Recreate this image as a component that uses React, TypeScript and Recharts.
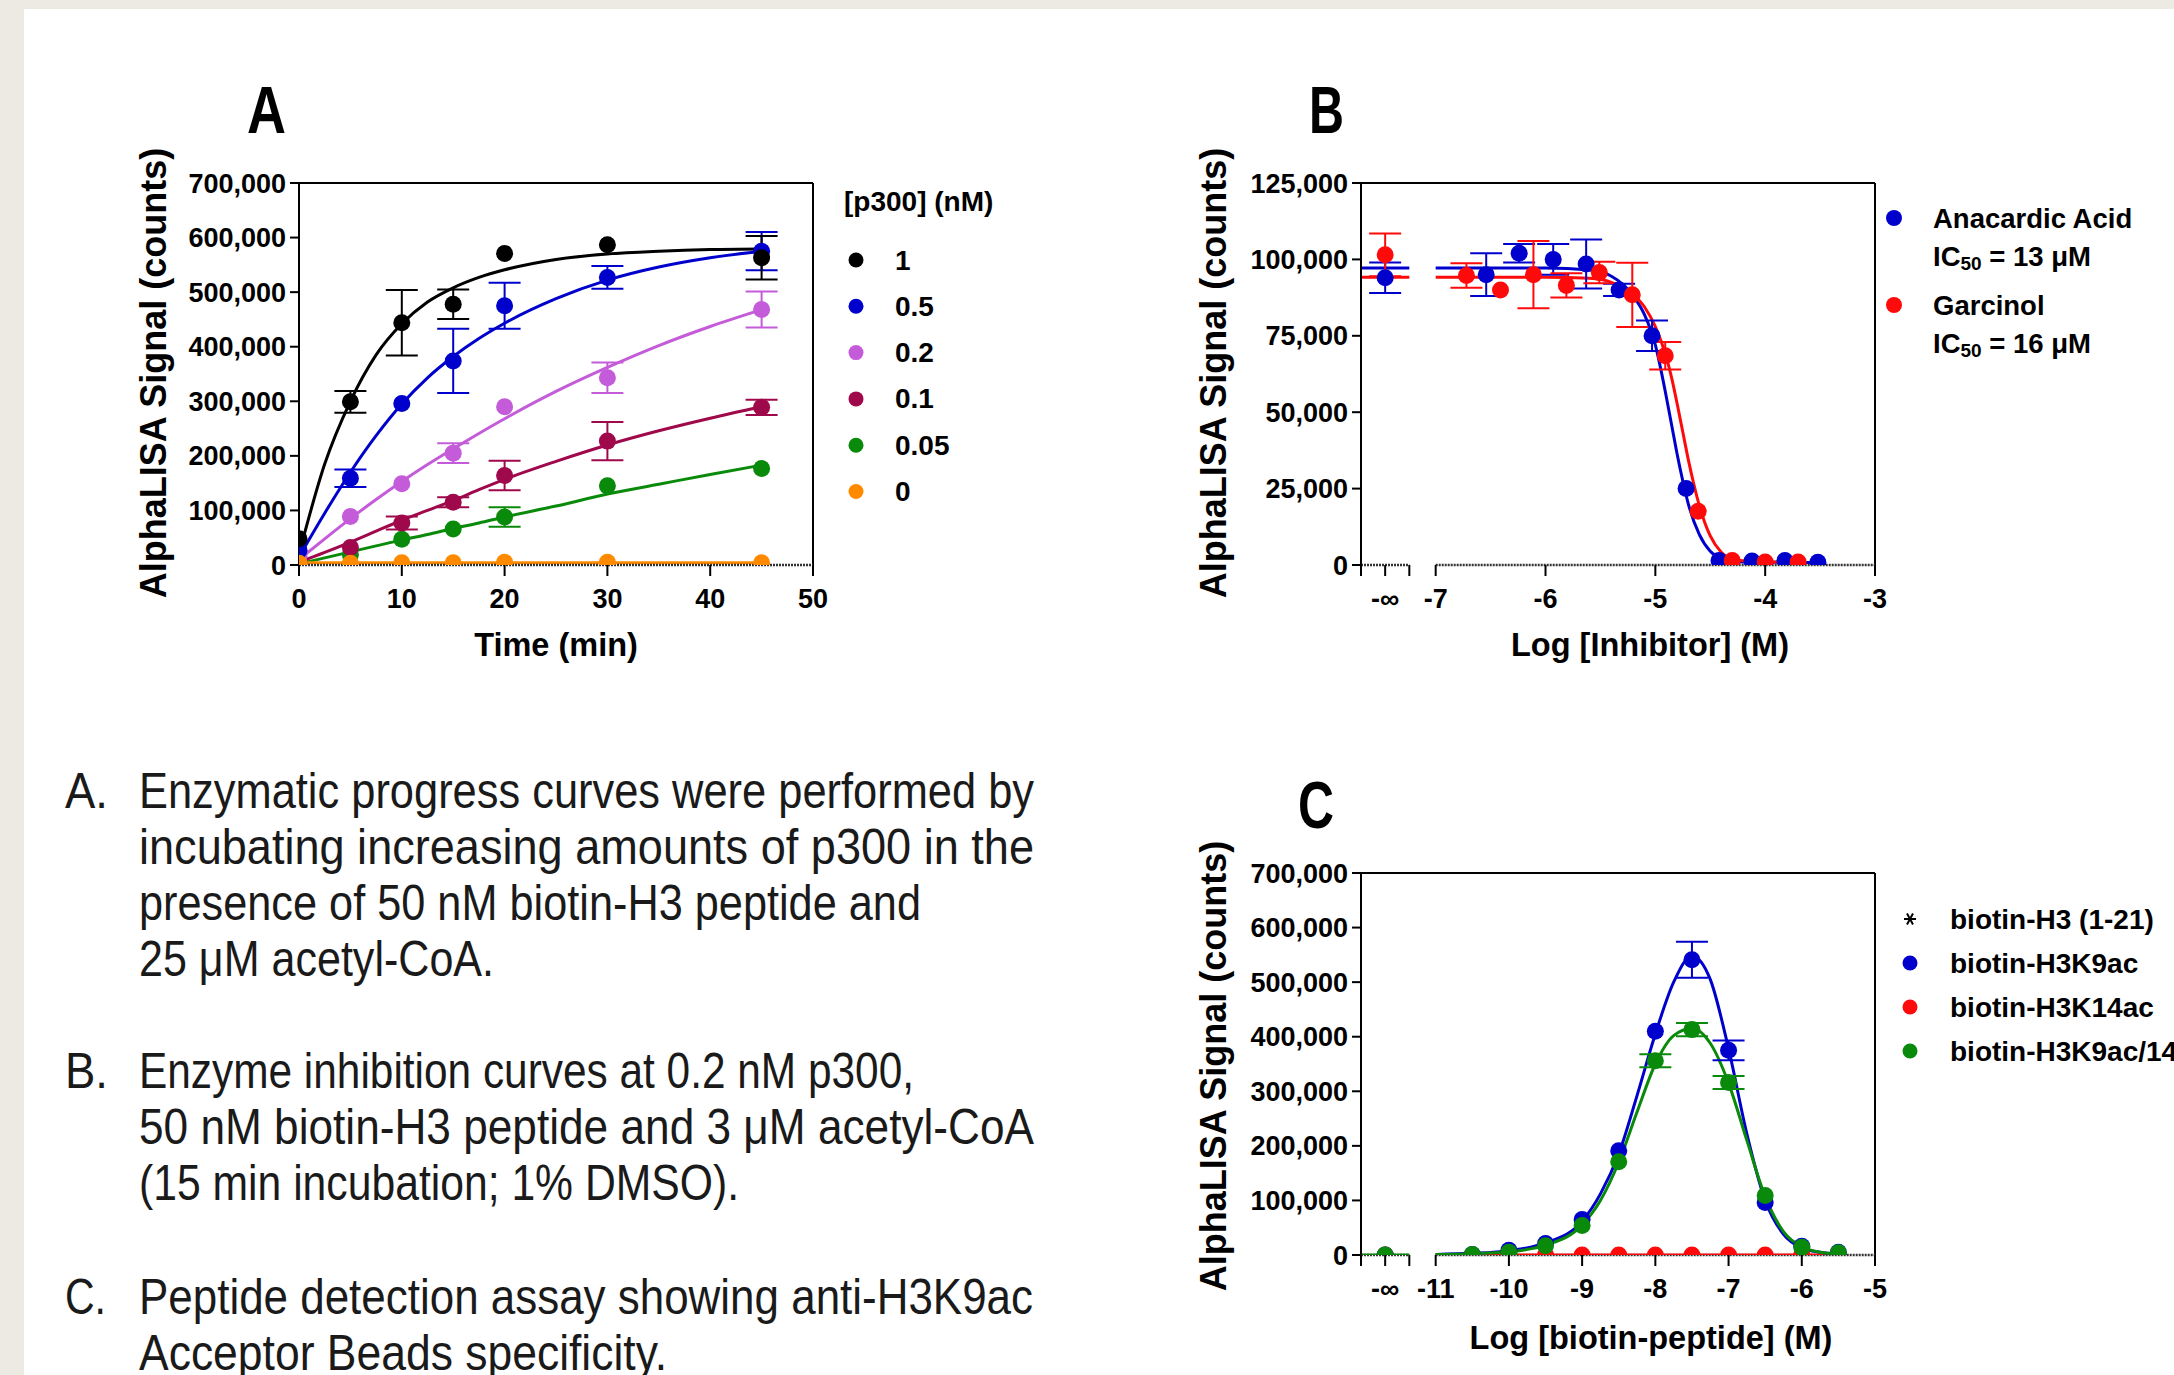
import React from 'react';
import {
  ComposedChart,
  Line,
  Scatter,
  XAxis,
  YAxis,
  ErrorBar,
  ReferenceLine,
} from 'recharts';

const FONT = '"Liberation Sans", Arial, sans-serif';
const NARROW = '"Liberation Sans Narrow", "Arial Narrow", "Liberation Sans", sans-serif';

// ---------- panel A : progress curves ----------
const A_TIME = [0, 5, 10, 15, 20, 30, 45];
const A_P1 = [48000, 299000, 444000, 478000, 571000, 587000, 563000];
const A_P1_ERR = [0, 20000, 60000, 27000, 0, 0, 40000];
const A_P05 = [27000, 159000, 296000, 374000, 475000, 527000, 575000];
const A_P05_ERR = [0, 16000, 0, 59000, 42000, 21000, 35000];
const A_P02 = [16000, 89000, 149000, 205000, 290000, 343000, 468000];
const A_P02_ERR = [0, 0, 0, 18000, 0, 28000, 33000];
const A_P01 = [10000, 32000, 77000, 115000, 164000, 227000, 289000];
const A_P01_ERR = [0, 0, 12000, 9000, 27000, 35000, 14000];
const A_P005 = [4000, 19000, 47000, 66000, 88000, 145000, 177000];
const A_P005_ERR = [0, 0, 0, 0, 18000, 0, 0];
const A_P0 = [3000, 3000, 4000, 4000, 5000, 5000, 4000];

const A_FIT_T = [0, 2.5, 5, 7.5, 10, 12.5, 15, 17.5, 20, 25, 30, 35, 40, 45];
const A_FIT_P1 = [20000, 185000, 300000, 385000, 442000, 482000, 508000, 527000, 541000, 560000, 570000, 575000, 578000, 579000];
const A_FIT_P05 = [15000, 95000, 170000, 237000, 295000, 343000, 382000, 415000, 443000, 488000, 522000, 546000, 563000, 575000];
const A_FIT_P02 = [10000, 48000, 85000, 120000, 153000, 184000, 213000, 241000, 268000, 318000, 362000, 402000, 437000, 468000];
const A_FIT_P01 = [5000, 23000, 42000, 62000, 82000, 100000, 118000, 138000, 157000, 190000, 220000, 246000, 269000, 290000];
const A_FIT_P005 = [2000, 13000, 24000, 35000, 46000, 56000, 67000, 77000, 88000, 108000, 130000, 148000, 166000, 183000];
const A_FIT_P0 = [4000, 4000, 4000, 4000, 4000, 4000, 4000, 4000, 4000, 4000, 4000, 4000, 4000, 4000];

const A_X_TICKS = [0, 10, 20, 30, 40, 50];
const A_X_LABELS = ['0', '10', '20', '30', '40', '50'];
const A_Y_TICKS = [0, 100000, 200000, 300000, 400000, 500000, 600000, 700000];
const A_LEGEND = ['1', '0.5', '0.2', '0.1', '0.05', '0'];

// ---------- panel B : inhibition ----------
const B_AA_X = [-7.46, -6.54, -6.24, -5.93, -5.63, -5.33, -5.03, -4.72, -4.42, -4.12, -3.82, -3.52];
const B_AA_Y = [94000, 95000, 102000, 100000, 98500, 90000, 75000, 25000, 1500, 1300, 1500, 900];
const B_AA_ERR = [5000, 7000, 3000, 5000, 8000, 2000, 5000, 0, 0, 0, 0, 0];
const B_GA_X = [-7.46, -6.72, -6.41, -6.11, -5.81, -5.51, -5.21, -4.91, -4.61, -4.3, -4.0, -3.7];
const B_GA_Y = [101500, 94700, 90000, 95000, 91500, 95700, 88400, 68500, 17600, 1500, 1000, 1000];
const B_GA_ERR = [7000, 4000, 0, 11000, 4000, 3500, 10500, 4500, 0, 0, 0, 0];

const B_FIT_AA_X = [-7, -6, -5.6, -5.4, -5.2, -5.1, -5.0, -4.95, -4.9, -4.85, -4.8, -4.75, -4.7, -4.6, -4.5, -4.4, -4.2, -3.52];
const B_FIT_AA_Y = [97200, 97200, 96500, 94500, 88000, 82000, 72000, 64000, 55000, 45500, 36000, 27500, 20000, 10000, 4500, 2200, 1000, 800];
const B_FIT_GA_X = [-7, -6, -5.6, -5.4, -5.2, -5.1, -5.0, -4.9, -4.85, -4.8, -4.75, -4.7, -4.65, -4.6, -4.5, -4.4, -4.3, -4.1, -3.7];
const B_FIT_GA_Y = [94200, 94200, 93800, 92500, 88500, 84500, 78000, 68000, 61000, 52500, 43500, 34500, 26500, 19500, 9500, 4200, 2000, 1100, 900];
const B_STUB_X = [-7.68, -7.24];
const B_STUB_AA = [97200, 97200];
const B_STUB_GA = [94200, 94200];

const B_X_TICKS = [-7.68, -7.46, -7.24, -7, -6, -5, -4, -3];
const B_X_LABELS = ['', '-∞', '', '-7', '-6', '-5', '-4', '-3'];
const B_Y_TICKS = [0, 25000, 50000, 75000, 100000, 125000];

// ---------- panel C : peptide detection ----------
const C_X = [-11.69, -10.5, -10, -9.5, -9, -8.5, -8, -7.5, -7, -6.5, -6, -5.5];
const C_H3 = [0, 0, 0, 0, 0, 0, 0, 0, 0, 0, 0, 0];
const C_K9 = [0, 1000, 8600, 21000, 65000, 191000, 410000, 541000, 375000, 96000, 16000, 5000];
const C_K9_ERR = [0, 0, 0, 0, 0, 0, 0, 33000, 18000, 0, 0, 0];
const C_K14 = [0, 0, 0, 0, 0, 0, 0, 0, 0, 0, 0, 0];
const C_K914 = [0, 1000, 5000, 17000, 54000, 171000, 356000, 413000, 316000, 109000, 14000, 4000];
const C_K914_ERR = [0, 0, 0, 0, 0, 0, 12000, 12000, 12000, 0, 0, 0];

const C_FIT_X = [-11, -10.5, -10, -9.5, -9, -8.75, -8.5, -8.25, -8, -7.75, -7.5, -7.25, -7, -6.75, -6.5, -6.25, -6, -5.75, -5.5];
const C_FIT_K9 = [1000, 3000, 8000, 22000, 62000, 112000, 185000, 292000, 405000, 500000, 548000, 505000, 378000, 222000, 100000, 38000, 13000, 5000, 2000];
const C_FIT_K914 = [1000, 2500, 6000, 18000, 55000, 100000, 170000, 262000, 350000, 402000, 415000, 388000, 315000, 210000, 107000, 43000, 15000, 5000, 2000];
const C_FIT_K14_X = [-11, -5.5];
const C_FIT_K14 = [0, 0];
const C_STUB_X = [-12.02, -11.36];
const C_STUB_Y = [0, 0];

const C_X_TICKS = [-12.02, -11.69, -11.36, -11, -10, -9, -8, -7, -6, -5];
const C_X_LABELS = ['', '-∞', '', '-11', '-10', '-9', '-8', '-7', '-6', '-5'];
const C_Y_TICKS = A_Y_TICKS;
const C_LEGEND = ['biotin-H3 (1-21)', 'biotin-H3K9ac', 'biotin-H3K14ac', 'biotin-H3K9ac/14ac'];

// ---------- caption ----------
const CAPTION_A = [
  'Enzymatic progress curves were performed by',
  'incubating increasing amounts of p300 in the',
  'presence of 50 nM biotin-H3 peptide and',
  '25 μM acetyl-CoA.',
];
const CAPTION_B = [
  'Enzyme inhibition curves at 0.2 nM p300,',
  '50 nM biotin-H3 peptide and 3 μM acetyl-CoA',
  '(15 min incubation; 1% DMSO).',
];
const CAPTION_C = ['Peptide detection assay showing anti-H3K9ac', 'Acceptor Beads specificity.'];

const BLACK = '#000000';
const BLUE = '#0000CC';
const ORCHID = '#C45CD9';
const MAROON = '#A0084C';
const GREEN = '#0A8A0A';
const ORANGE = '#FF8A00';
const RED = '#FF0A0A';

const pts = (xs: number[], ys: number[], es?: number[]) =>
  xs.map((x, i) => ({ x, y: ys[i], e: es ? es[i] : 0 }));

const PW = 514;
const PH = 382;
const ML = 140;
const MT = 20;
const MR = 20;
const MB = 80;

const dot = (color: string) => (p: any) =>
  <circle cx={p.cx} cy={p.cy} r={8.5} fill={color} />;

const star = (p: any) => (
  <g stroke="#000" strokeWidth={2}>
    <line x1={p.cx - 6} y1={p.cy} x2={p.cx + 6} y2={p.cy} />
    <line x1={p.cx - 3} y1={p.cy - 5.5} x2={p.cx + 3} y2={p.cy + 5.5} />
    <line x1={p.cx + 3} y1={p.cy - 5.5} x2={p.cx - 3} y2={p.cy + 5.5} />
  </g>
);

type Series = {
  color: string;
  points: { x: number; y: number; e: number }[];
  shape?: any;
};

type Curve = { color: string; data: { x: number; y: number }[] };

function Plot(props: {
  left: number;
  top: number;
  xDomain: [number, number];
  yDomain: [number, number];
  xTicks: number[];
  xLabels: string[];
  yTicks: number[];
  segments?: [number, number][];
  curves: Curve[];
  series: Series[];
}) {
  const { left, top, xDomain, yDomain, xTicks, xLabels, yTicks, segments, curves, series } = props;
  const tickText = { fill: '#000', fontSize: 27, fontWeight: 700, fontFamily: FONT };
  return (
    <div style={{ position: 'absolute', left: left - ML, top: top - MT }}>
      <ComposedChart
        width={PW + ML + MR}
        height={PH + MT + MB}
        margin={{ top: MT, right: MR, bottom: MB - 60, left: ML - 100 }}
      >
        <XAxis
          type="number"
          dataKey="x"
          domain={xDomain}
          allowDataOverflow
          ticks={xTicks}
          interval={0}
          height={60}
          tickSize={11}
          tickMargin={13}
          axisLine={segments ? false : { stroke: '#333', strokeWidth: 2.5, strokeDasharray: '2 1' }}
          tickLine={{ stroke: '#000', strokeWidth: 2 }}
          tick={(p: any) => {
            const label = xLabels[xTicks.indexOf(p.payload.value)];
            return (
              <text x={p.x} y={p.y} dy="0.71em" textAnchor="middle" {...tickText}>
                {label}
              </text>
            );
          }}
        />
        <YAxis
          type="number"
          domain={yDomain}
          allowDataOverflow
          ticks={yTicks}
          interval={0}
          width={100}
          tickSize={9}
          tickMargin={4}
          axisLine={{ stroke: '#000', strokeWidth: 2 }}
          tickLine={{ stroke: '#000', strokeWidth: 2 }}
          tick={tickText}
          tickFormatter={(v: number) => v.toLocaleString('en-US')}
        />
        <ReferenceLine y={yDomain[1]} stroke="#000" strokeWidth={2} />
        <ReferenceLine x={xDomain[1]} stroke="#000" strokeWidth={2} />
        {segments &&
          segments.map((s, i) => (
            <ReferenceLine
              key={'seg' + i}
              segment={[{ x: s[0], y: 0 }, { x: s[1], y: 0 }]}
              stroke="#333"
              strokeWidth={2.5}
              strokeDasharray="2 1"
            />
          ))}
        {curves.map((c, i) => (
          <Line
            key={'c' + i}
            data={c.data}
            dataKey="y"
            type="monotone"
            stroke={c.color}
            strokeWidth={3}
            dot={false}
            activeDot={false}
            isAnimationActive={false}
          />
        ))}
        {series.map((s, i) => (
          <Scatter
            key={'s' + i}
            data={s.points}
            dataKey="y"
            fill={s.color}
            shape={s.shape || dot(s.color)}
            isAnimationActive={false}
          >
            <ErrorBar dataKey="e" direction="y" width={16} stroke={s.color} strokeWidth={2} isAnimationActive={false} />
          </Scatter>
        ))}
      </ComposedChart>
    </div>
  );
}

const A_COLORS = [BLACK, BLUE, ORCHID, MAROON, GREEN, ORANGE];

export default function App() {
  const aCurves: Curve[] = [
    { color: GREEN, data: pts(A_FIT_T, A_FIT_P005) },
    { color: MAROON, data: pts(A_FIT_T, A_FIT_P01) },
    { color: ORCHID, data: pts(A_FIT_T, A_FIT_P02) },
    { color: BLUE, data: pts(A_FIT_T, A_FIT_P05) },
    { color: BLACK, data: pts(A_FIT_T, A_FIT_P1) },
    { color: ORANGE, data: pts(A_FIT_T, A_FIT_P0) },
  ];
  const aSeries: Series[] = [
    { color: GREEN, points: pts(A_TIME, A_P005, A_P005_ERR) },
    { color: MAROON, points: pts(A_TIME, A_P01, A_P01_ERR) },
    { color: ORCHID, points: pts(A_TIME, A_P02, A_P02_ERR) },
    { color: BLUE, points: pts(A_TIME, A_P05, A_P05_ERR) },
    { color: BLACK, points: pts(A_TIME, A_P1, A_P1_ERR) },
    { color: ORANGE, points: pts(A_TIME, A_P0) },
  ];
  const bCurves: Curve[] = [
    { color: BLUE, data: pts(B_STUB_X, B_STUB_AA) },
    { color: RED, data: pts(B_STUB_X, B_STUB_GA) },
    { color: BLUE, data: pts(B_FIT_AA_X, B_FIT_AA_Y) },
    { color: RED, data: pts(B_FIT_GA_X, B_FIT_GA_Y) },
  ];
  const bSeries: Series[] = [
    { color: BLUE, points: pts(B_AA_X, B_AA_Y, B_AA_ERR) },
    { color: RED, points: pts(B_GA_X, B_GA_Y, B_GA_ERR) },
  ];
  const cCurves: Curve[] = [
    { color: RED, data: pts(C_FIT_K14_X, C_FIT_K14) },
    { color: BLUE, data: pts(C_FIT_X, C_FIT_K9) },
    { color: GREEN, data: pts(C_FIT_X, C_FIT_K914) },
    { color: GREEN, data: pts(C_STUB_X, C_STUB_Y) },
  ];
  const cSeries: Series[] = [
    { color: BLACK, points: pts(C_X, C_H3), shape: star },
    { color: RED, points: pts(C_X, C_K14) },
    { color: BLUE, points: pts(C_X, C_K9, C_K9_ERR) },
    { color: GREEN, points: pts(C_X, C_K914, C_K914_ERR) },
  ];

  const bold = { fontFamily: FONT, fontWeight: 700, fill: '#000' } as const;
  const capLine = (text: string, y: number, w: number, key: string) => (
    <text key={key} x={139} y={y} fontSize={50} fontFamily={NARROW} fill="#1a1a1a" textLength={w} lengthAdjust="spacingAndGlyphs">
      {text}
    </text>
  );
  const capA_W = [895, 895, 782, 355];
  const capB_W = [775, 895, 600];
  const capC_W = [894, 528];

  return (
    <div style={{ position: 'absolute', left: 0, top: 0, width: 2174, height: 1375, overflow: 'hidden', background: '#EDEAE4' }}>
      <div style={{ position: 'absolute', left: 24, top: 9, width: 2150, height: 1366, background: '#fff' }} />

      <Plot left={299} top={183} xDomain={[0, 50]} yDomain={[0, 700000]} xTicks={A_X_TICKS} xLabels={A_X_LABELS} yTicks={A_Y_TICKS} curves={aCurves} series={aSeries} />
      <Plot left={1361} top={183} xDomain={[-7.68, -3]} yDomain={[0, 125000]} xTicks={B_X_TICKS} xLabels={B_X_LABELS} yTicks={B_Y_TICKS} segments={[[-7.68, -7.24], [-7, -3]]} curves={bCurves} series={bSeries} />
      <Plot left={1361} top={873} xDomain={[-12.02, -5]} yDomain={[0, 700000]} xTicks={C_X_TICKS} xLabels={C_X_LABELS} yTicks={C_Y_TICKS} segments={[[-12.02, -11.36], [-11, -5]]} curves={cCurves} series={cSeries} />

      <svg width={2174} height={1375} style={{ position: 'absolute', left: 0, top: 0, pointerEvents: 'none' }}>
        {/* panel letters */}
        <text x={247} y={133} fontSize={66} textLength={39} lengthAdjust="spacingAndGlyphs" {...bold}>A</text>
        <text x={1309} y={133} fontSize={66} textLength={35} lengthAdjust="spacingAndGlyphs" {...bold}>B</text>
        <text x={1298} y={828} fontSize={66} textLength={36} lengthAdjust="spacingAndGlyphs" {...bold}>C</text>

        {/* axis titles */}
        <text transform="translate(153,373) rotate(-90)" textAnchor="middle" dominantBaseline="central" fontSize={36} {...bold}>AlphaLISA Signal (counts)</text>
        <text transform="translate(1213,373) rotate(-90)" textAnchor="middle" dominantBaseline="central" fontSize={36} {...bold}>AlphaLISA Signal (counts)</text>
        <text transform="translate(1213,1066) rotate(-90)" textAnchor="middle" dominantBaseline="central" fontSize={36} {...bold}>AlphaLISA Signal (counts)</text>
        <text x={556} y={645} textAnchor="middle" dominantBaseline="central" fontSize={32.5} {...bold}>Time (min)</text>
        <text x={1650} y={645} textAnchor="middle" dominantBaseline="central" fontSize={32.5} {...bold}>Log [Inhibitor] (M)</text>
        <text x={1651} y={1338} textAnchor="middle" dominantBaseline="central" fontSize={32.5} {...bold}>Log [biotin-peptide] (M)</text>

        {/* legend A */}
        <text x={844} y={201} dominantBaseline="central" fontSize={28} {...bold}>[p300] (nM)</text>
        {A_LEGEND.map((l, i) => (
          <g key={l}>
            <circle cx={856} cy={260 + i * 46.3} r={7.5} fill={A_COLORS[i]} />
            <text x={895} y={260 + i * 46.3} dominantBaseline="central" fontSize={28} {...bold}>{l}</text>
          </g>
        ))}

        {/* legend B */}
        <circle cx={1894} cy={218} r={8} fill={BLUE} />
        <text x={1933} y={218} dominantBaseline="central" fontSize={27.5} {...bold}>Anacardic Acid</text>
        <text x={1933} y={256} dominantBaseline="central" fontSize={27.5} {...bold}>
          IC<tspan fontSize={19} dy={7}>50</tspan><tspan dy={-7}> = 13 μM</tspan>
        </text>
        <circle cx={1894} cy={305} r={8} fill={RED} />
        <text x={1933} y={305} dominantBaseline="central" fontSize={27.5} {...bold}>Garcinol</text>
        <text x={1933} y={343} dominantBaseline="central" fontSize={27.5} {...bold}>
          IC<tspan fontSize={19} dy={7}>50</tspan><tspan dy={-7}> = 16 μM</tspan>
        </text>

        {/* legend C */}
        {star({ cx: 1910, cy: 919 })}
        <circle cx={1910} cy={963} r={7.5} fill={BLUE} />
        <circle cx={1910} cy={1007} r={7.5} fill={RED} />
        <circle cx={1910} cy={1051} r={7.5} fill={GREEN} />
        {C_LEGEND.map((l, i) => (
          <text key={l} x={1950} y={919 + i * 44} dominantBaseline="central" fontSize={28} {...bold}>{l}</text>
        ))}

        {/* caption */}
        <text x={65} y={808} fontSize={50} fontFamily={NARROW} fill="#1a1a1a" textLength={43} lengthAdjust="spacingAndGlyphs">A.</text>
        {CAPTION_A.map((t, i) => capLine(t, 808 + i * 56, capA_W[i], 'a' + i))}
        <text x={65} y={1088} fontSize={50} fontFamily={NARROW} fill="#1a1a1a" textLength={43} lengthAdjust="spacingAndGlyphs">B.</text>
        {CAPTION_B.map((t, i) => capLine(t, 1088 + i * 56, capB_W[i], 'b' + i))}
        <text x={65} y={1314} fontSize={50} fontFamily={NARROW} fill="#1a1a1a" textLength={41} lengthAdjust="spacingAndGlyphs">C.</text>
        {CAPTION_C.map((t, i) => capLine(t, 1314 + i * 56, capC_W[i], 'c' + i))}
      </svg>
    </div>
  );
}
